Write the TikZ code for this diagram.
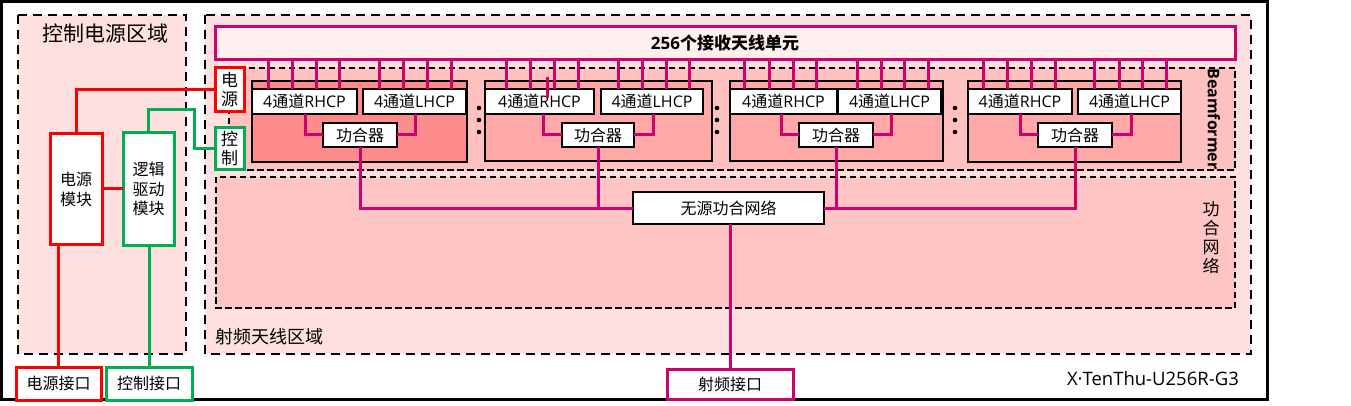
\documentclass[tikz,border=0pt]{standalone}
\usepackage{fontspec}
\setmainfont{Noto Sans CJK SC}
\newfontfamily\lat{Open Sans}
\usetikzlibrary{calc}
\definecolor{mag}{RGB}{208,0,111}
\definecolor{myred}{RGB}{255,0,0}
\definecolor{mygreen}{RGB}{0,176,80}
\definecolor{regfill}{RGB}{255,224,224}
\definecolor{bffill}{RGB}{255,192,192}
\definecolor{netfill}{RGB}{255,196,196}
\definecolor{antfill}{RGB}{255,240,240}
\definecolor{mod1fill}{RGB}{255,140,140}
\definecolor{modfill}{RGB}{255,168,168}
\newcommand{\fs}[1]{\fontsize{#1}{#1}\selectfont}
\newcommand{\chanR}{{\lat 4}通道{\lat RHCP}}
\newcommand{\chanL}{{\lat 4}通道{\lat LHCP}}
\tikzset{
  region/.style={draw=black, line width=2.8pt, dash pattern=on 9pt off 6pt, fill=regfill},
  subregion/.style={draw=black, line width=2.8pt, dash pattern=on 6.5pt off 3.5pt},
  boxbase/.style={rectangle, inner sep=0pt, outer sep=0pt, align=center, fill=white},
  magbox/.style={boxbase, draw=mag, line width=3pt},
  redbox/.style={boxbase, draw=myred, line width=3pt},
  greenbox/.style={boxbase, draw=mygreen, line width=3pt},
  blkbox/.style={boxbase, draw=black, line width=2pt},
  modbox/.style={draw=black, line width=2.5pt},
  feed/.style={draw=mag, line width=3pt},
  redlink/.style={draw=myred, line width=3pt},
  greenlink/.style={draw=mygreen, line width=3pt},
  maglink/.style={draw=mag, line width=3pt},
}
\begin{document}
\begin{tikzpicture}[x=1pt,y=-1pt]
\useasboundingbox (0,0) rectangle (1351,406);
% outer frame
\draw[line width=3pt, fill=white] (1.5,1.5) rectangle (1267,399);
% regions
\draw[region] (18,15) rectangle (186,354);
\draw[region] (205,15) rectangle (1251,354);
\draw[subregion, fill=bffill] (229,68) rectangle (1235,170);
\draw[subregion, fill=netfill] (216,177) rectangle (1235,308);
% region labels
\node[font=\fs{21}, inner sep=0pt] (ctltitle) at (105,34) {控制电源区域};
\node[font=\fs{18}, anchor=west, inner sep=0pt] (rftitle) at (215,337) {射频天线区域};
\node[font=\lat\fs{18.5}, anchor=east, inner sep=0pt] (model) at (1239,379) {X·TenThu-U256R-G3};
\node[font=\lat\bfseries\fs{16}, rotate=-90, inner sep=0pt] (bflabel) at (1214,119) {Beamformer};
\node[font=\fs{17}, align=center, inner sep=0pt] (netlabel) at (1211,238) {功\\[2pt]合\\[2pt]网\\[2pt]络};
% antenna unit
\node[magbox, fill=antfill, minimum width=1020pt, minimum height=33pt, font=\bfseries\fs{17}] (ant) at (725,43.5) {{\lat\bfseries 256}个接收天线单元};
% modules
\draw[modbox, fill=mod1fill] (252,81) rectangle (467,162);
\draw[modbox, fill=modfill] (485,81) rectangle (712,161);
\draw[modbox, fill=modfill] (730,81) rectangle (943,161);
\draw[modbox, fill=modfill] (968,81) rectangle (1181,162);
% channel boxes
\tikzset{chan/.style={blkbox, minimum height=25pt, font=\fs{16}}}
\node[chan, minimum width=105pt] (r1) at (304.5,101.5) {\chanR};
\node[chan, minimum width=103pt] (l1) at (414.5,101.5) {\chanL};
\node[chan, minimum width=109pt] (r2) at (539.5,101.5) {\chanR};
\node[chan, minimum width=102pt] (l2) at (652,101.5) {\chanL};
\node[chan, minimum width=107pt] (r3) at (783.5,101.5) {\chanR};
\node[chan, minimum width=103pt] (l3) at (889.5,101.5) {\chanL};
\node[chan, minimum width=104pt] (r4) at (1020,101.5) {\chanR};
\node[chan, minimum width=103pt] (l4) at (1129.5,101.5) {\chanL};
% combiners
\tikzset{comb/.style={blkbox, minimum height=24pt, minimum width=74pt, font=\fs{16}}}
\node[comb] (g1) at (360,135) {功合器};
\node[comb, minimum width=72pt] (g2) at (598,135) {功合器};
\node[comb] (g3) at (836,135) {功合器};
\node[comb] (g4) at (1075,135) {功合器};
% feed lines
\foreach \x in {268,292,316,339} \draw[feed] (\x,0 |- ant.south) -- (\x,0 |- r1.north);
\foreach \x in {379,403,427,451} \draw[feed] (\x,0 |- ant.south) -- (\x,0 |- l1.north);
\foreach \x in {506,530,554,578} \draw[feed] (\x,0 |- ant.south) -- (\x,0 |- r2.north);
\foreach \x in {618,642,666,689} \draw[feed] (\x,0 |- ant.south) -- (\x,0 |- l2.north);
\foreach \x in {744,769,793,816} \draw[feed] (\x,0 |- ant.south) -- (\x,0 |- r3.north);
\foreach \x in {857,881,904,928} \draw[feed] (\x,0 |- ant.south) -- (\x,0 |- l3.north);
\foreach \x in {983,1007,1031,1055} \draw[feed] (\x,0 |- ant.south) -- (\x,0 |- r4.north);
\foreach \x in {1094,1119,1142,1166} \draw[feed] (\x,0 |- ant.south) -- (\x,0 |- l4.north);
\coordinate (stubA) at (547,77);
\coordinate (stubB) at (547,98);
\draw[feed] (stubA) -- (stubB);
% channel -> combiner
\draw[maglink] (305,0 |- r1.south) |- (g1.west);
\draw[maglink] (415,0 |- l1.south) |- (g1.east);
\draw[maglink] (543,0 |- r2.south) |- (g2.west);
\draw[maglink] (653,0 |- l2.south) |- (g2.east);
\draw[maglink] (781,0 |- r3.south) |- (g3.west);
\draw[maglink] (891,0 |- l3.south) |- (g3.east);
\draw[maglink] (1020,0 |- r4.south) |- (g4.west);
\draw[maglink] (1131,0 |- l4.south) |- (g4.east);
% dots
\foreach \x in {479,717,955} \foreach \y in {108,120,132} \fill (\x,\y) circle (2.3pt);
% passive network
\node[blkbox, line width=2.5pt, minimum width=191pt, minimum height=32pt, font=\fs{16}] (net) at (728.5,208) {无源功合网络};
\draw[maglink] (g1.south) |- (net.west);
\draw[maglink] (g2.south) -- (g2.south |- net.west);
\draw[maglink] (g4.south) |- (net.east);
\draw[maglink] (g3.south) -- (g3.south |- net.east);
% RF port
\node[magbox, minimum width=126pt, minimum height=30pt, font=\fs{16}] (rf) at (730,384) {射频接口};
\draw[maglink] (net.south -| rf.north) -- (rf.north);
% left side
\node[redbox, minimum width=29pt, minimum height=44pt, font=\fs{17}] (pw) at (229.5,90) {电\\[2pt]源};
\node[greenbox, minimum width=29pt, minimum height=42pt, font=\fs{17}] (ctl) at (229.5,149) {控\\[2pt]制};
\node[redbox, minimum width=52pt, minimum height=110pt, font=\fs{16}] (pm) at (76,189) {电源\\[4pt]模块};
\node[greenbox, minimum width=51pt, minimum height=112pt, font=\fs{16}] (ld) at (148.5,189) {逻辑\\[3.5pt]驱动\\[3.5pt]模块};
\node[redbox, minimum width=85pt, minimum height=33pt, font=\fs{16}] (pi) at (58.5,383.5) {电源接口};
\node[greenbox, minimum width=86pt, minimum height=33pt, font=\fs{16}] (ci) at (149,383.5) {控制接口};
\draw[redlink] (pm.east) -- (ld.west);
\draw[redlink] (pm.north) |- (pw.west);
\draw[greenlink] (ld.north) |- (194,110) |- (ctl.west);
\draw[redlink] (pm.south -| pi.north) -- (pi.north);
\draw[greenlink] (ld.south -| ci.north) -- (ci.north);
\end{tikzpicture}
\end{document}
